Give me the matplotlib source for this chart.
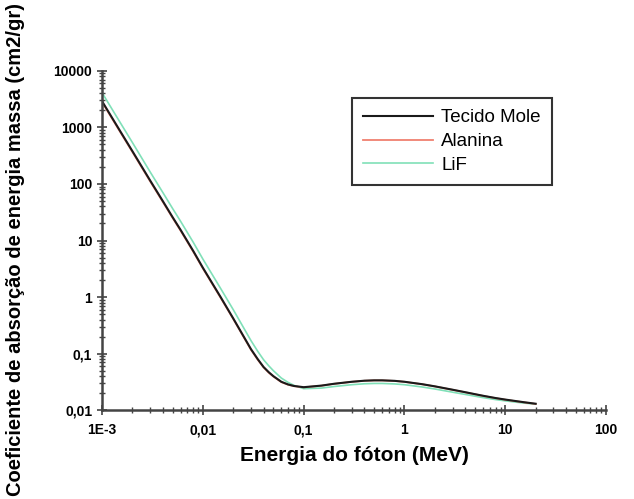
import numpy as np
import matplotlib
matplotlib.use("Agg")
import matplotlib.pyplot as plt
from matplotlib.ticker import LogLocator, NullFormatter

plt.rcParams['font.family'] = ['Liberation Sans', 'DejaVu Sans']

# photon energy (MeV)
energia = [0.001, 0.0015, 0.002, 0.003, 0.004, 0.005, 0.006, 0.008, 0.01,
           0.015, 0.02, 0.03, 0.035, 0.04, 0.045, 0.05, 0.06, 0.07, 0.08, 0.1, 0.15, 0.2, 0.3,
           0.4, 0.5, 0.6, 0.8, 1.0, 1.5, 2.0, 3.0, 4.0, 5.0, 6.0, 8.0, 10.0,
           15.0, 20.0]

# mass energy absorption coefficient (cm2/gr)
tecido_mole = [2900, 880, 380, 115, 50, 26, 15.5, 6.6, 3.3,
               1.0, 0.42, 0.12, 0.08, 0.058, 0.047, 0.040, 0.0318, 0.0285, 0.0268, 0.0255, 0.0272, 0.0293, 0.0318,
               0.0332, 0.0337, 0.0337, 0.0330, 0.0318, 0.0288, 0.0264, 0.0230, 0.0208, 0.0192, 0.0180, 0.0164, 0.0154,
               0.0139, 0.0130]
alanina = [2800, 850, 367, 111, 48.3, 25.2, 15.0, 6.4, 3.2,
           0.97, 0.41, 0.117, 0.078, 0.057, 0.046, 0.0393, 0.0313, 0.0282, 0.0266, 0.0253, 0.0271, 0.0292, 0.0317,
           0.0331, 0.0336, 0.0336, 0.0329, 0.0317, 0.0287, 0.0263, 0.0229, 0.0207, 0.0191, 0.0179, 0.0163, 0.0153,
           0.0138, 0.0129]
lif = [4100, 1250, 540, 163, 71, 37, 22, 9.4, 4.7,
       1.42, 0.6, 0.17, 0.11, 0.078, 0.061, 0.050, 0.037, 0.031, 0.0275, 0.0240, 0.0246, 0.0262, 0.0282,
       0.0293, 0.0297, 0.0297, 0.0291, 0.0282, 0.0257, 0.0237, 0.0208, 0.0190, 0.0177, 0.0167, 0.0154, 0.0146,
       0.0134, 0.0128]

xticks = [1e-3, 1e-2, 1e-1, 1, 10, 100]
xlabels = ['1E-3', '0,01', '0,1', '1', '10', '100']
yticks = [1e-2, 1e-1, 1, 10, 100, 1000, 10000]
ylabels = ['0,01', '0,1', '1', '10', '100', '1000', '10000']

fig = plt.figure(figsize=(6.34, 4.99), dpi=100)
ax = fig.add_axes([0.161, 0.178, 0.795, 0.68])

ax.plot(energia, lif, color='#80e0b8', lw=1.2, label='LiF')
ax.plot(energia, alanina, color='#f08070', lw=1.3, label='Alanina')
ax.plot(energia, tecido_mole, color='#1a1a1a', lw=1.5, label='Tecido Mole')

ax.set_xscale('log')
ax.set_yscale('log')
ax.set_xlim(1e-3, 100)
ax.set_ylim(1e-2, 1e4)

ax.set_xticks(xticks, xlabels)
ax.set_yticks(yticks, ylabels)
ax.xaxis.set_minor_locator(LogLocator(base=10, subs=np.arange(2, 10)))
ax.yaxis.set_minor_locator(LogLocator(base=10, subs=np.arange(2, 10)))
ax.xaxis.set_minor_formatter(NullFormatter())
ax.yaxis.set_minor_formatter(NullFormatter())

for s in ['top', 'right']:
    ax.spines[s].set_visible(False)
for s in ['left', 'bottom']:
    ax.spines[s].set_color('#444444')
    ax.spines[s].set_linewidth(1.8)

ax.tick_params(which='major', direction='inout', length=7, width=1.2, color='#444444',
               labelsize=10)
ax.tick_params(axis='x', which='major', pad=6)
ax.tick_params(which='minor', direction='inout', length=4, width=1.0, color='#444444')
for lab in ax.get_xticklabels() + ax.get_yticklabels():
    lab.set_fontweight('bold')

ax.set_xlabel('Energia do fóton (MeV)', fontsize=15, fontweight='bold', labelpad=6)
fig.text(0.024, 0.5, 'Coeficiente de absorção de energia massa (cm2/gr)',
         rotation=90, fontsize=14.5, fontweight='bold', ha='center', va='center')

handles, labels = ax.get_legend_handles_labels()
leg = ax.legend(handles[::-1], labels[::-1], loc='upper left',
                bbox_to_anchor=(352 / 634, 1 - 98 / 499),
                bbox_transform=fig.transFigure, fontsize=13.5, frameon=True,
                fancybox=False, handlelength=3.7, handletextpad=0.45,
                borderpad=0.6, labelspacing=0.35, borderaxespad=0)
leg.get_frame().set_edgecolor('black')
leg.get_frame().set_linewidth(1.5)

fig.savefig('out.png', dpi=100)
